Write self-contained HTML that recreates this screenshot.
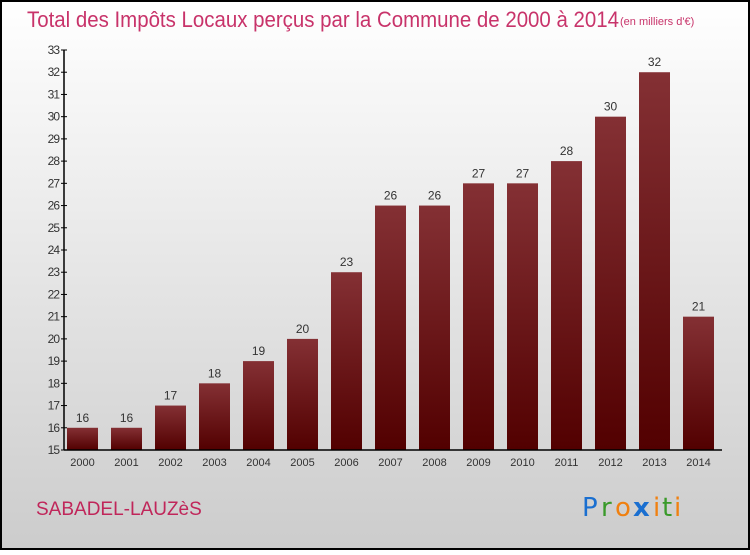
<!DOCTYPE html>
<html><head><meta charset="utf-8"><style>
html,body{margin:0;padding:0;}
body{width:750px;height:550px;overflow:hidden;font-family:"Liberation Sans",sans-serif;}
</style></head><body>
<svg width="750" height="550" xmlns="http://www.w3.org/2000/svg">
<defs>
<linearGradient id="bg" x1="0" y1="0" x2="0" y2="1"><stop offset="0" stop-color="#ffffff"/><stop offset="1" stop-color="#cccccc"/></linearGradient>
<linearGradient id="bar" x1="0" y1="0" x2="0" y2="1"><stop offset="0" stop-color="#843034"/><stop offset="1" stop-color="#520000"/></linearGradient>
</defs>
<rect x="1" y="1" width="748" height="548" fill="url(#bg)" stroke="#000" stroke-width="2"/>
<text x="27" y="27" font-size="22" fill="#c8336a" textLength="592" lengthAdjust="spacingAndGlyphs">Total des Impôts Locaux perçus par la Commune de 2000 à 2014</text>
<text x="620" y="25" font-size="11" fill="#c8336a">(en milliers d'€)</text>
<g id="yaxis"></g>
<g id="bars"></g>
<line x1="64" y1="450" x2="722" y2="450" stroke="#000" stroke-width="1.5"/>
<line x1="64" y1="50" x2="64" y2="450" stroke="#000" stroke-width="1.5"/>
<text x="36" y="515" font-size="19" fill="#c0265a">SABADEL-LAUZèS</text>
<g font-size="26" font-family="'DejaVu Sans',sans-serif">
<text x="582" y="516" fill="#1a6fd0">P</text><text x="601" y="516" fill="#3a9a2a">r</text><text x="615" y="516" fill="#f08010">o</text><text x="633" y="516" fill="#1a6fd0" font-weight="bold">x</text><text x="653" y="516" fill="#f08010">i</text><text x="662" y="516" fill="#3a9a2a">t</text><text x="674" y="516" fill="#f08010">i</text>
</g>
</svg>
<script>
const years=["2000","2001","2002","2003","2004","2005","2006","2007","2008","2009","2010","2011","2012","2013","2014"];
const values=[16,16,17,18,19,20,23,26,26,27,27,28,30,32,21];
const yTicks=[15,16,17,18,19,20,21,22,23,24,25,26,27,28,29,30,31,32,33];
const NS="http://www.w3.org/2000/svg";
function y(v){return 450-(v-15)*(400/18);}
function x(i){return 67+i*44;}
const ya=document.getElementById('yaxis'),bg=document.getElementById('bars');
yTicks.forEach(t=>{
 const l=document.createElementNS(NS,'line');
 
 
 l.setAttribute('x1',61);l.setAttribute('x2',67);l.setAttribute('y1',y(t));l.setAttribute('y2',y(t));l.setAttribute('stroke','#000');
 ya.appendChild(l);
 const tx=document.createElementNS(NS,'text');
 
 
 tx.setAttribute('x',59);tx.setAttribute('y',y(t)+4);tx.setAttribute('text-anchor','end');tx.setAttribute('font-size','12');tx.setAttribute('fill','#333');tx.setAttribute('letter-spacing','-1');
 tx.textContent=t;ya.appendChild(tx);
});
values.forEach((v,i)=>{
 const r=document.createElementNS(NS,'rect');
 
 
 r.setAttribute('x',x(i));r.setAttribute('y',y(v));r.setAttribute('width',31);r.setAttribute('height',450-y(v));r.setAttribute('fill','url(#bar)');
 bg.appendChild(r);
 const vt=document.createElementNS(NS,'text');
 
 
 vt.setAttribute('x',x(i)+15.5);vt.setAttribute('y',y(v)-6);vt.setAttribute('text-anchor','middle');vt.setAttribute('font-size','12');vt.setAttribute('fill','#333');
 vt.textContent=v;bg.appendChild(vt);
 const xt=document.createElementNS(NS,'text');
 
 
 xt.setAttribute('x',x(i)+15.5);xt.setAttribute('y',466);xt.setAttribute('text-anchor','middle');xt.setAttribute('font-size','11');xt.setAttribute('fill','#333');
 xt.textContent=years[i];bg.appendChild(xt);
});
</script>
</body></html>
